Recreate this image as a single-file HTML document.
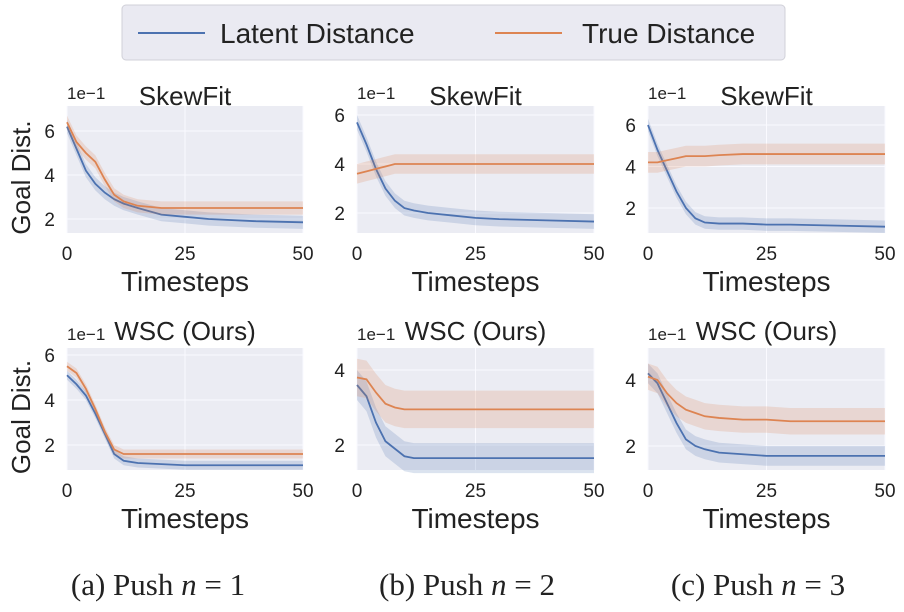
<!DOCTYPE html>
<html><head><meta charset="utf-8"><style>
body{margin:0;background:#fff;width:904px;height:612px;overflow:hidden}
svg{display:block}
text{font-family:"Liberation Sans",sans-serif;fill:#222}
</style></head><body>
<svg id="c" width="904" height="612"></svg>
<script>
const steps=[0,2,4,6,8,10,12,15,20,25,30,40,50];
const latent1=[0.62,0.52,0.42,0.36,0.32,0.29,0.27,0.25,0.22,0.21,0.20,0.19,0.185];
const true1=[0.64,0.55,0.50,0.46,0.38,0.31,0.28,0.26,0.25,0.25,0.25,0.25,0.25];
const latent2=[0.57,0.48,0.38,0.30,0.25,0.22,0.21,0.20,0.19,0.18,0.175,0.17,0.165];
const true2=[0.36,0.37,0.38,0.39,0.40,0.40,0.40,0.40,0.40,0.40,0.40,0.40,0.40];
const latent3=[0.60,0.48,0.38,0.28,0.20,0.15,0.13,0.125,0.125,0.12,0.12,0.115,0.11];
const true3=[0.42,0.42,0.43,0.44,0.45,0.45,0.45,0.455,0.46,0.46,0.46,0.46,0.46];
const latent4=[0.51,0.47,0.42,0.34,0.25,0.16,0.13,0.12,0.115,0.11,0.11,0.11,0.11];
const true4=[0.55,0.52,0.45,0.36,0.26,0.18,0.16,0.16,0.16,0.16,0.16,0.16,0.16];
const latent5=[0.36,0.33,0.26,0.21,0.19,0.17,0.165,0.165,0.165,0.165,0.165,0.165,0.165];
const true5=[0.38,0.375,0.34,0.31,0.30,0.295,0.295,0.295,0.295,0.295,0.295,0.295,0.295];
const latent6=[0.42,0.39,0.33,0.27,0.22,0.20,0.19,0.18,0.175,0.17,0.17,0.17,0.17];
const true6=[0.41,0.40,0.36,0.33,0.31,0.30,0.29,0.285,0.28,0.28,0.275,0.275,0.275];
const xTicks=[0,25,50];
const bandL=[0.03,0.03,0.03,0.02,0.04,0.03];
const bandT=[0.03,0.04,0.05,0.02,0.05,0.04];
const yTickSets=[[0.2,0.4,0.6],[0.2,0.4,0.6],[0.2,0.4,0.6],[0.2,0.4,0.6],[0.2,0.4],[0.2,0.4]];
const titles=["SkewFit","SkewFit","SkewFit","WSC (Ours)","WSC (Ours)","WSC (Ours)"];
const captions=["(a) Push ","(b) Push ","(c) Push "];
const latents=[latent1,latent2,latent3,latent4,latent5,latent6];
const trues=[true1,true2,true3,true4,true5,true6];
const cols=[[67,303],[357,594],[648,885]];
const rows=[[106,233],[348,470]];
const capX=[158,467,758];
const yCal=[[0.6,131,0.2,219],[0.6,115,0.2,213],[0.6,125,0.2,208],[0.6,355,0.2,445],[0.4,370,0.2,445],[0.4,380,0.2,446]];
const NS="http://www.w3.org/2000/svg";
const svg=document.getElementById('c');
function mk(tag,attrs,parent){const e=document.createElementNS(NS,tag);for(const k in attrs)e.setAttribute(k,attrs[k]);(parent||svg).appendChild(e);return e;}
const lg=mk('g',{});


mk('rect',{x:122,y:5,width:663,height:55,rx:4,fill:'#eaeaf2',stroke:'#d0d0d8'},lg);
mk('line',{x1:138,y1:33,x2:205,y2:33,stroke:'#4c72b0','stroke-width':2},lg);
let t=mk('text',{x:220,y:43,'font-size':28},lg);t.textContent='Latent Distance';

mk('line',{x1:495,y1:33,x2:562,y2:33,stroke:'#dd8452','stroke-width':2},lg);
t=mk('text',{x:582,y:43,'font-size':28},lg);t.textContent='True Distance';

for(let p=0;p<6;p++){
  const c=p%3,r=Math.floor(p/3);
  const [x0,x1]=cols[c],[y0,y1]=rows[r];
  const cal=yCal[p];
  const X=v=>x0+(v/50)*(x1-x0);
  const Y=v=>cal[1]+(v-cal[0])*(cal[3]-cal[1])/(cal[2]-cal[0]);
  const g=mk('g',{});
  
  
  mk('rect',{x:x0,y:y0,width:x1-x0,height:y1-y0,fill:'#ebecf3'},g);
  xTicks.forEach(v=>{mk('line',{x1:X(v),x2:X(v),y1:y0,y2:y1,stroke:'#fafaff','stroke-width':1},g);
    const tt=mk('text',{x:X(v),y:y1+27,'font-size':19,'text-anchor':'middle',fill:'#333'},g);tt.textContent=v;
    });
  yTickSets[p].forEach(v=>{mk('line',{x1:x0,x2:x1,y1:Y(v),y2:Y(v),stroke:'#fafaff','stroke-width':1},g);
    const tt=mk('text',{x:x0-12,y:Y(v)+7,'font-size':19,'text-anchor':'end',fill:'#333'},g);tt.textContent=Math.round(v*10);
    });
  const series=[[latents[p],bandL[p],'#4c72b0','latent'],[trues[p],bandT[p],'#dd8452','true']];
  series.forEach(([d,b,col,nm])=>{
    let up=steps.map((s,i)=>X(s)+','+Y(d[i]+b)).join(' ');
    let dn=steps.map((s,i)=>X(s)+','+Y(d[i]-b)).reverse().join(' ');
    const band=mk('polygon',{points:up+' '+dn,fill:col,'fill-opacity':0.2},g);
    
    const ln=mk('polyline',{points:steps.map((s,i)=>X(s)+','+Y(d[i])).join(' '),fill:'none',stroke:col,'stroke-width':1.8},g);
    
  });
  const ex=mk('text',{x:x0,y:r?340:99,'font-size':17,fill:'#333'},g);ex.textContent='1e\u22121';
  
  const ti=mk('text',{x:(x0+x1)/2,y:r?340:105,'font-size':26,'text-anchor':'middle'},g);ti.textContent=titles[p];
  
  const xl=mk('text',{x:(x0+x1)/2,y:y1+58,'font-size':28,'text-anchor':'middle'},g);xl.textContent='Timesteps';
  
  if(c===0){const yl=mk('text',{x:0,y:0,'font-size':26,'text-anchor':'middle',transform:`translate(30,${(y0+y1)/2+8}) rotate(-90)`},g);yl.textContent='Goal Dist.';
    }
}
for(let c=0;c<3;c++){
  const cp=mk('text',{x:capX[c],y:595,'font-size':31,'text-anchor':'middle',style:'font-family:"Liberation Serif",serif'});
  
  cp.textContent=captions[c];
  const it=mk('tspan',{'font-style':'italic'},cp);it.textContent='n';
  const rs=mk('tspan',{},cp);rs.textContent=' = '+(c+1);
}
</script>
</body></html>
